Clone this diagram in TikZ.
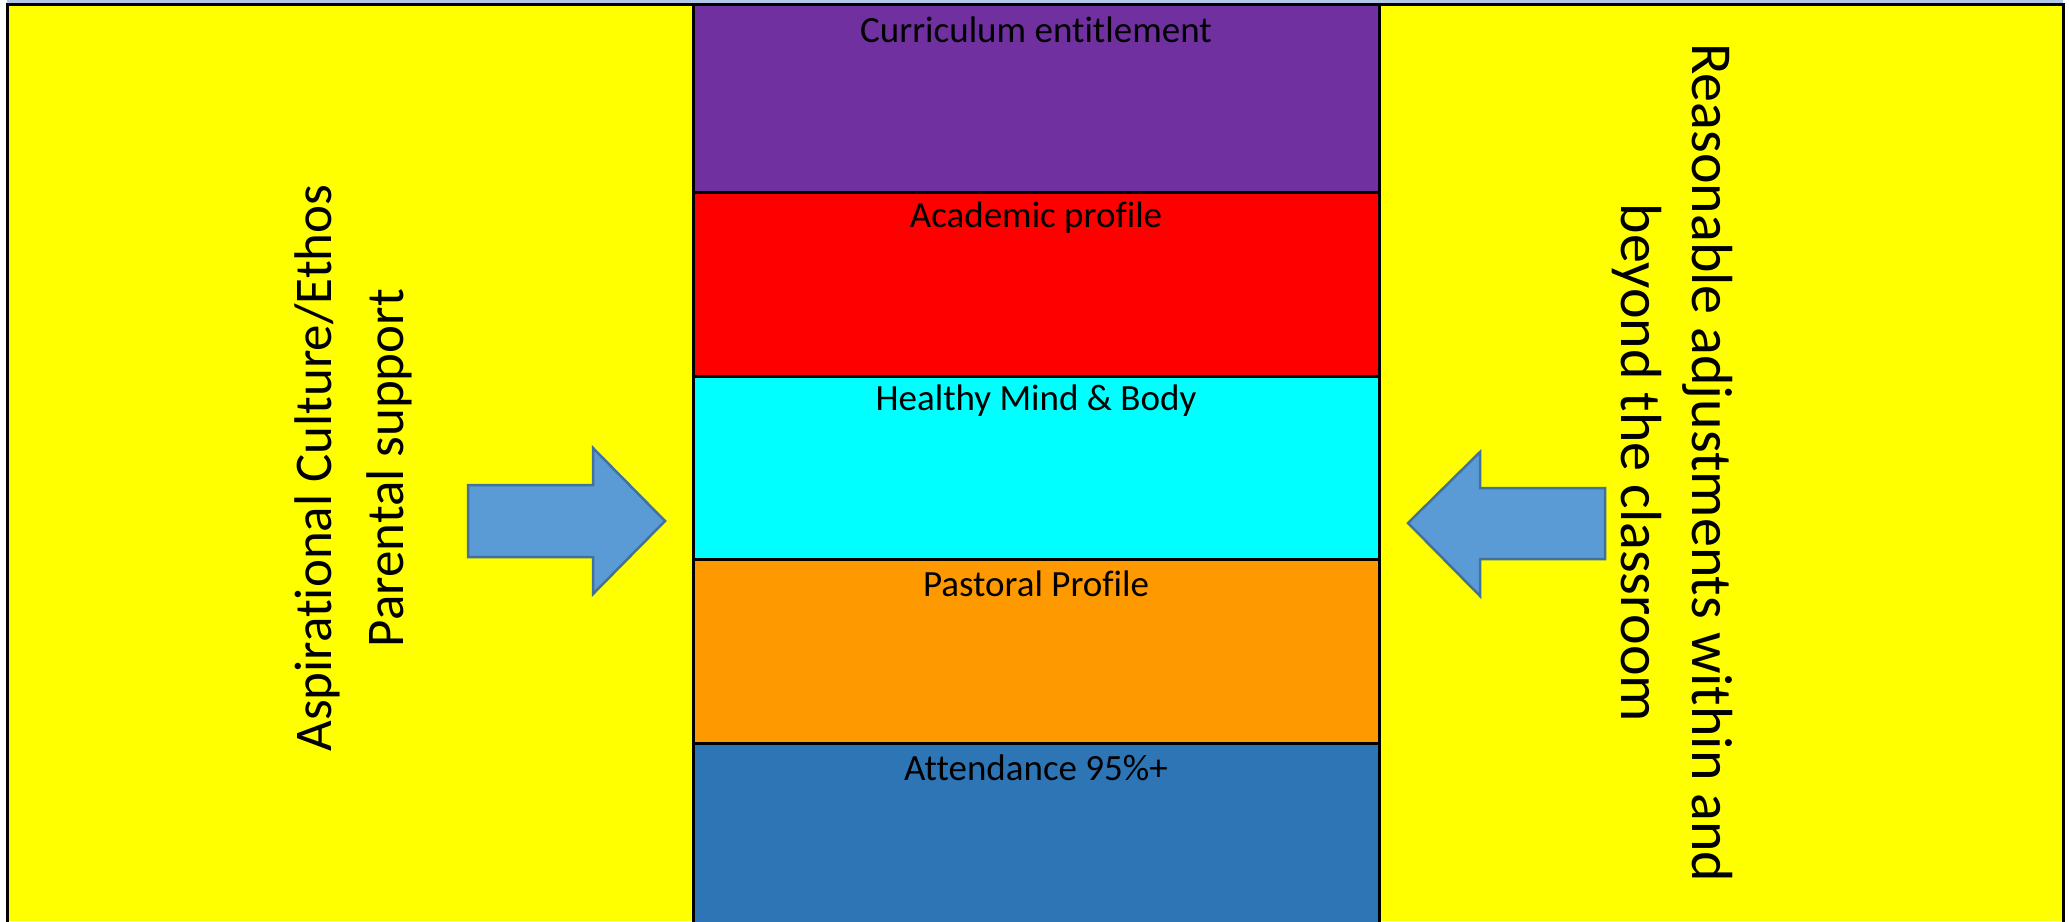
\documentclass[tikz,border=0pt]{standalone}
\usepackage{fontspec}
\setmainfont{Carlito}[Ligatures=NoCommon]
\definecolor{ybg}{HTML}{FFFF00}
\definecolor{cpurple}{HTML}{7030A0}
\definecolor{cred}{HTML}{FF0000}
\definecolor{ccyan}{HTML}{00FFFF}
\definecolor{corange}{HTML}{FF9900}
\definecolor{cblue}{HTML}{2E75B6}
\definecolor{afill}{HTML}{5B9BD5}
\definecolor{aline}{HTML}{41719C}
\definecolor{topband}{HTML}{B4C7E7}
\tikzset{
  cell/.style={draw=black, line width=3pt},
  celllabel/.style={font=\fontsize{37}{44}\selectfont, anchor=center, inner sep=0pt},
  sidetext/.style={font=\fontsize{58}{71}\selectfont, align=center, inner sep=0pt},
  bigarrow/.style={fill=afill, draw=aline, line width=2.5pt, line join=miter},
}
\begin{document}
\begin{tikzpicture}[x=1pt,y=-1pt]
\useasboundingbox (0,0) rectangle (2069,921);
\fill[white] (0,0) rectangle (2069,921);
\fill[topband] (7,0) rectangle (2063,3);
% yellow panels
\fill[ybg] (7,4) rectangle (2063,921);
% central column cells
\filldraw[cell, fill=cpurple] (693,4) rectangle (1379,192);
\filldraw[cell, fill=cred] (693,192) rectangle (1379,376);
\filldraw[cell, fill=ccyan] (693,376) rectangle (1379,559);
\filldraw[cell, fill=corange] (693,559) rectangle (1379,743);
\filldraw[cell, fill=cblue] (693,743) rectangle (1379,923);
% outer border
\draw[line width=3pt] (7,923) -- (7,4) -- (2063,4) -- (2063,923);
% labels
\node[celllabel] (l1) at (1036,30) {Curriculum entitlement};
\node[celllabel] (l2) at (1036,218) {Academic profile};
\node[celllabel] (l3) at (1036,401) {Healthy Mind \& Body};
\node[celllabel] (l4) at (1036,584) {Pastoral Profile};
\node[celllabel] (l5) at (1036,768) {Attendance 95\%+};
% side texts
\node[sidetext, font=\fontsize{53}{72}\selectfont, rotate=90] (lt) at (353,468) {Aspirational Culture/Ethos\\Parental support};
\node[sidetext, rotate=-90] (rt) at (1672,463) {Reasonable adjustments within and\\beyond the classroom};
% arrows
\draw[bigarrow] (468,485) -- (593,485) -- (593,448) -- (665,521) -- (593,594) -- (593,557) -- (468,557) -- cycle;
\draw[bigarrow] (1605,488) -- (1480,488) -- (1480,452) -- (1408,523) -- (1480,596) -- (1480,559) -- (1605,559) -- cycle;
\end{tikzpicture}
\end{document}
